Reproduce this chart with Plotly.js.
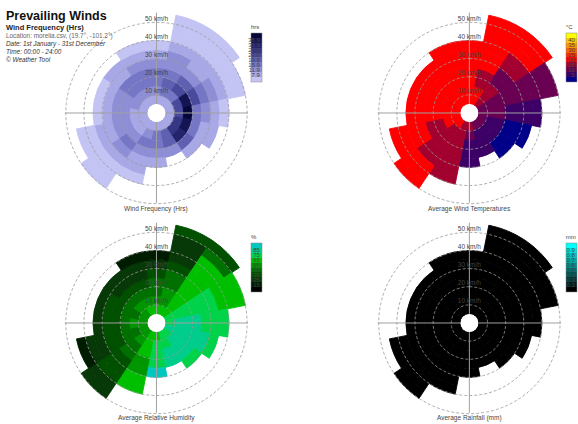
<!DOCTYPE html>
<html><head><meta charset="utf-8">
<script src="https://cdn.plot.ly/plotly-3.0.1.min.js"></script>
<style>html,body{margin:0;padding:0;background:#fff;}#chart{width:578px;height:424px;}</style>
</head><body><div id="chart"></div>
<script>
// ---------- data ----------
const directions = ['N','NNE','NE','ENE','E','ESE','SE','SSE','S','SSW','SW','WSW','W','WNW','NW','NNW'];
const directionAngles = [0,22.5,45,67.5,90,112.5,135,157.5,180,202.5,225,247.5,270,292.5,315,337.5];
const speedBinStart = 5;   // km/h
const speedBinWidth = 5;   // km/h

// one row per direction, one value per 5 km/h speed bin (from 5 km/h outwards)
const frequencyHrs = [
  [4,10,15,12,8,5,3],
  [4,13,19,15,11,8,5,3,3,2],
  [4,15,22,17,11,7,5,3,3,2],
  [4,20,33,22,13,8,5,3,2],
  [5,23,40,14,9,5,3],
  [5,27,32,13,7,4],
  [4,24,30,17,6],
  [4,17,19,9],
  [4,13,15,9,5],
  [4,9,13,11,7,4,3],
  [4,7,11,12,9,5,3,3,2],
  [4,7,9,10,7,4,3,2],
  [4,7,9,8,5,3],
  [4,8,11,9,5,3],
  [4,9,13,12,7,4],
  [4,9,13,14,9,5,3]
];
const temperatureC = [
  [22,22,23,23,23,24,23],
  [21,20,19,19,20,21,22,22,23,23],
  [17,16,15,14,14,16,18,21,22,22],
  [14,12,11,11,10,10,11,11,12],
  [13,11,10,9,9,9,9],
  [12,8,6,4,3,2],
  [12,8,6,3,2],
  [13,9,7,6],
  [15,11,8,8,8],
  [18,16,15,15,16,17,18],
  [20,19,17,16,17,18,20,21,22],
  [21,20,19,19,20,21,22,22],
  [22,21,21,21,22,22],
  [22,22,22,22,22,23],
  [22,22,22,23,23,23],
  [22,22,23,23,23,23,23]
];
const humidityPct = [
  [62,55,48,40,32,24,18],
  [62,58,52,46,40,35,28,25,28,35],
  [68,68,66,64,63,62,62,60,45,38],
  [74,76,76,74,72,70,68,66,64],
  [78,82,82,80,78,75,72],
  [80,84,84,82,80,78],
  [78,82,82,80,76],
  [74,78,80,82],
  [68,70,72,78,92],
  [64,62,60,58,56,62,60],
  [58,52,46,42,38,34,30,25,20],
  [55,48,44,38,32,26,22,18],
  [55,50,44,38,32,28],
  [55,48,42,36,30,25],
  [58,50,42,34,26,20],
  [60,52,45,36,28,20,15]
];
const rainfallMm = [
  [0,0,0,0,0,0,0],
  [0,0,0,0,0,0,0,0,0,0],
  [0,0,0,0,0,0,0,0,0,0],
  [0,0,0,0,0,0,0,0,0],
  [0,0,0,0,0,0,0],
  [0,0,0,0,0,0],
  [0,0,0,0,0],
  [0,0,0,0],
  [0,0,0,0,0],
  [0,0,0,0,0,0,0],
  [0,0,0,0,0,0,0,0,0],
  [0,0,0,0,0,0,0,0],
  [0,0,0,0,0,0],
  [0,0,0,0,0,0],
  [0,0,0,0,0,0],
  [0,0,0,0,0,0,0]
];
const radialTickValues = [10,20,30,40,50];
const radialTickLabels = ['10 km/h','20 km/h','30 km/h','40 km/h','50 km/h'];

const hrsTickText  = ['<3.9','7.9','11.9','15.9','19.9','23.9','27.9','31.9','35.9','39.9+'];
const tempTickText = ['0','5','10','15','20','25','30','35','40','45+'];
const humTickText  = ['5','15','25','35','45','55','65','75','85','95+'];
const rainTickText = ['0.1','0.2','0.3','0.4','0.5','0.6','0.7','0.8','0.9','1.0+'];

// ---------- styles ----------
const hrsColors  = ['#c4c4f4','#a8a8e6','#8e8ed6','#7676c6','#6060b2','#4a4a9c','#363686','#24246e','#141454','#06063a'];
const tempColors = ['#000088','#3c0066','#6a0052','#a2002e','#ff0000','#ff2a00','#ff6000','#ff9400','#ffc800','#ffff00'];
const humColors  = ['#000000','#001c00','#073807','#005000','#007000','#009600','#00bf00','#00d34a','#00cc8c','#00c8c0'];
const rainColors = ['#000000','#001c1c','#003838','#005454','#007070','#008c8c','#00a8a8','#00c4c4','#00e0e0','#00ffff'];

const FONT = 'Liberation Sans, Arial, sans-serif';
const W = 578, H = 424;
const R_MAX = 55.5;

function stepped(colors){
  const n = colors.length, cs = [];
  colors.forEach((c,i)=>{ cs.push([i/n,c]); cs.push([(i+1)/n,c]); });
  return cs;
}

function roseTraces(values, sub, colors, cmin, cmax, tickText, unit, cbx, cby){
  const n = colors.length, step = (cmax-cmin)/n;
  const theta=[], r=[], base=[], col=[], lineCol=[];
  values.forEach((row,d)=>{
    row.forEach((v,i)=>{
      theta.push(directionAngles[d]);
      base.push(speedBinStart + i*speedBinWidth);
      r.push(speedBinWidth);
      col.push(v);
      const k = Math.max(0, Math.min(n-1, Math.floor((v-cmin)/step)));
      lineCol.push(colors[k]);
    });
  });
  const cs = stepped(colors);
  const tickvals = tickText.map((t,i)=>cmin+(i+0.5)*step);
  const bars = {
    type:'barpolar', subplot:sub, theta:theta, r:r, base:base, width:22.5,
    hoverinfo:'skip',
    marker:{
      color:col, colorscale:cs, cmin:cmin, cmax:cmax, showscale:true,
      line:{color:lineCol, width:0.9},
      colorbar:{
        x:cbx, xanchor:'left', y:cby, yanchor:'top',
        len:60, lenmode:'pixels', thickness:11, thicknessmode:'pixels',
        xpad:0, ypad:0, outlinewidth:0.5, outlinecolor:'#888',
        tickvals:tickvals, ticktext:tickText, ticks:'',
        ticklabelposition:'inside',
        tickfont:{family:FONT, size:6, color:'#444'},
        title:{text:unit, side:'top', font:{family:FONT, size:6, color:'#444'}}
      }
    }
  };
  // dashed range circles drawn above the bars
  const ct=[], cr=[];
  radialTickValues.forEach(rv=>{
    for(let a=0;a<=360;a+=3){ ct.push(a); cr.push(rv); }
    ct.push(null); cr.push(null);
  });
  const circles = {type:'scatterpolar', subplot:sub, mode:'lines', theta:ct, r:cr,
    line:{color:'#9a9a9a', width:0.8, dash:'3px,2px'}, hoverinfo:'skip', showlegend:false};
  const cross = {type:'scatterpolar', subplot:sub, mode:'lines',
    theta:[0,0,null,90,90,null,180,180,null,270,270],
    r:[speedBinStart,R_MAX,null,speedBinStart,50.5,null,speedBinStart,49.5,null,speedBinStart,50.5],
    line:{color:'#a0a0a0', width:1}, hoverinfo:'skip', showlegend:false};
  const labels = {type:'scatterpolar', subplot:sub, mode:'text',
    theta:radialTickValues.map(()=>0), r:radialTickValues, text:radialTickLabels,
    textposition:'top center', cliponaxis:false,
    textfont:{family:FONT, size:6.5, color:'#444'}, hoverinfo:'skip', showlegend:false};
  return [bars, circles, cross, labels];
}

function polarLayout(cx, cy){
  const rad = 101;
  return {
    domain:{x:[(cx-rad)/W,(cx+rad)/W], y:[Math.max(0,1-(cy+rad)/H), Math.min(1,1-(cy-rad)/H)]},
    hole: speedBinStart/R_MAX,
    bgcolor:'rgba(0,0,0,0)',
    barmode:'overlay',
    radialaxis:{visible:false, range:[speedBinStart,R_MAX]},
    angularaxis:{visible:false, rotation:90, direction:'clockwise'}
  };
}

const data = [].concat(
  roseTraces(frequencyHrs,'polar', hrsColors, 0, 40, hrsTickText, 'hrs', 252/W, 1-22/H),
  roseTraces(temperatureC,'polar2', tempColors, 0, 50, tempTickText, '°C', 568/W, 1-22/H),
  roseTraces(humidityPct,'polar3', humColors, 0, 100, humTickText, '%', 252/W, 1-232/H),
  roseTraces(rainfallMm,'polar4', rainColors, 0, 1, rainTickText, 'mm', 568/W, 1-232/H)
);

function ann(text, xpx, ypx, opts){
  return Object.assign({text:text, x:xpx/W, y:1-ypx/H, xref:'paper', yref:'paper',
    showarrow:false, xanchor:'left', yanchor:'middle'}, opts);
}

const layout = {
  width:W, height:H, margin:{l:0,r:0,t:0,b:0},
  paper_bgcolor:'#fff', showlegend:false,
  font:{family:FONT},
  polar: polarLayout(157,113),
  polar2: polarLayout(471,113),
  polar3: polarLayout(157,323),
  polar4: polarLayout(471,323),
  annotations:[
    ann('<b>Prevailing Winds</b>', 4, 16, {font:{family:FONT, size:12.5, color:'#111'}}),
    ann('<b>Wind Frequency (Hrs)</b>', 4, 28, {font:{family:FONT, size:7.5, color:'#222'}}),
    ann('Location: morelia.csv, (19.7°, -101.2°)', 4, 35.5, {font:{family:FONT, size:6.4, color:'#666'}}),
    ann('<i>Date: 1st January - 31st December</i>', 4, 43.5, {font:{family:FONT, size:6.4, color:'#333'}}),
    ann('<i>Time: 00:00 - 24:00</i>', 4, 51.5, {font:{family:FONT, size:6.4, color:'#333'}}),
    ann('<i>© Weather Tool</i>', 4, 59.5, {font:{family:FONT, size:6.4, color:'#333'}}),
    ann('Wind Frequency (Hrs)', 157, 209, {xanchor:'center', font:{family:FONT, size:6.5, color:'#444'}}),
    ann('Average Wind Temperatures', 471, 209, {xanchor:'center', font:{family:FONT, size:6.5, color:'#444'}}),
    ann('Average Relative Humidity', 157, 418, {xanchor:'center', font:{family:FONT, size:6.5, color:'#444'}}),
    ann('Average Rainfall (mm)', 471, 418, {xanchor:'center', font:{family:FONT, size:6.5, color:'#444'}})
  ]
};

Plotly.newPlot('chart', data, layout, {staticPlot:true, displayModeBar:false});
</script>
</body></html>
